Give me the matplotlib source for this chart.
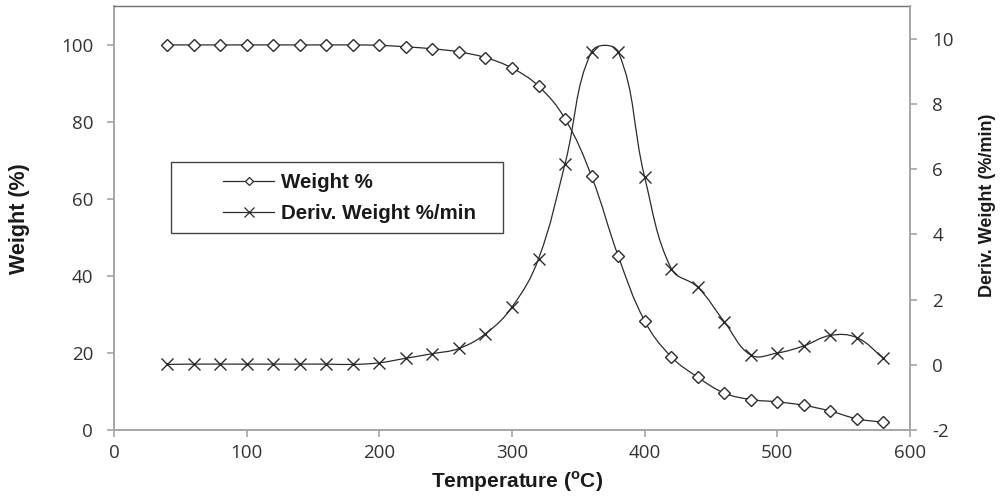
import matplotlib
matplotlib.use('Agg')
import numpy as np
import matplotlib.pyplot as plt
from matplotlib.path import Path
from matplotlib.patches import PathPatch, Rectangle
from matplotlib.lines import Line2D

# ---------------- data ----------------
temperature = [40, 60, 80, 100, 120, 140, 160, 180, 200, 220, 240, 260, 280, 300,
               320, 340, 360, 380, 400, 420, 440, 460, 480, 500, 520, 540, 560, 580]
weight_pct = [99.9, 99.9, 99.9, 99.9, 99.9, 99.9, 99.9, 99.9, 99.8, 99.4, 98.9, 98.1, 96.6, 93.9,
              89.2, 80.7, 65.8, 45.2, 28.3, 19.0, 13.7, 9.6, 7.9, 7.3, 6.4, 4.9, 2.9, 2.0]
deriv_weight = [0.01, 0.02, 0.02, 0.02, 0.02, 0.02, 0.02, 0.01, 0.06, 0.2, 0.34, 0.5, 0.95, 1.77,
                3.25, 6.17, 9.6, 9.6, 5.75, 2.95, 2.38, 1.32, 0.30, 0.36, 0.58, 0.9, 0.83, 0.2]
x_ticks = [0, 100, 200, 300, 400, 500, 600]
y_left_ticks = [0, 20, 40, 60, 80, 100]
y_right_ticks = [-2, 0, 2, 4, 6, 8, 10]
legend_labels = ['Weight %', 'Deriv. Weight %/min']

plt.rcParams['mathtext.fontset'] = 'custom'
plt.rcParams['mathtext.rm'] = 'Liberation Sans'
plt.rcParams['mathtext.bf'] = 'Liberation Sans:bold'
plt.rcParams['axes.unicode_minus'] = False

W, H = 1001, 499
fig = plt.figure(figsize=(W / 100, H / 100), dpi=100)


def fx(px):
    return px / W


def fy(py):
    return 1 - py / H


def smooth_path(a, x, y, t=0.4):
    """Excel-like smoothed line: cubic Bezier segments through the data points,
    control points computed in screen space with segment-length weighting."""
    pts = a.transData.transform(np.column_stack([x, y]))
    n = len(pts)
    seg = np.hypot(*np.diff(pts, axis=0).T)
    cin = np.zeros_like(pts)
    cout = np.zeros_like(pts)
    for i in range(n):
        p_prev = pts[max(i - 1, 0)]
        p_next = pts[min(i + 1, n - 1)]
        d_prev = seg[i - 1] if i > 0 else 0.0
        d_next = seg[i] if i < n - 1 else 0.0
        tot = d_prev + d_next
        tang = p_next - p_prev
        if tot == 0:
            cin[i] = cout[i] = pts[i]
            continue
        cout[i] = pts[i] + tang * t * d_next / tot
        cin[i] = pts[i] - tang * t * d_prev / tot
    inv = a.transData.inverted()
    verts = [pts[0]]
    codes = [Path.MOVETO]
    for i in range(n - 1):
        verts += [cout[i], cin[i + 1], pts[i + 1]]
        codes += [Path.CURVE4] * 3
    return Path(inv.transform(np.array(verts)), codes)


line_col = '#2b2b2b'
spine_col = '#a6a6a6'
tick_text_col = '#333333'

ax = fig.add_axes([fx(114), fy(430), (910 - 114) / W, (430 - 6) / H])
ax2 = ax.twinx()

ax.set_xlim(0, 600)
ax.set_ylim(0, 110)
ax2.set_ylim(-2, 11)
ax.set_xticks(x_ticks)
ax.set_yticks(y_left_ticks)
ax2.set_yticks(y_right_ticks)

# lines
ax.add_patch(PathPatch(smooth_path(ax, temperature, weight_pct), facecolor='none',
                       edgecolor=line_col, lw=0.9, zorder=2))
ax.plot(temperature, weight_pct, linestyle='none', marker='D', markersize=6.2,
        markerfacecolor='white', markeredgecolor=line_col, markeredgewidth=1.0, zorder=3)
ax2.add_patch(PathPatch(smooth_path(ax2, temperature, deriv_weight), facecolor='none',
                        edgecolor=line_col, lw=0.9, zorder=2))
ax2.plot(temperature, deriv_weight, linestyle='none', marker='x', markersize=9,
         markeredgecolor=line_col, markeredgewidth=1.0, zorder=3)

# spines
for a in (ax, ax2):
    for s in a.spines.values():
        s.set_visible(False)
ax.spines['left'].set_visible(True)
ax.spines['bottom'].set_visible(True)
ax.spines['top'].set_visible(True)
ax2.spines['right'].set_visible(True)
for s in (ax.spines['left'], ax.spines['bottom'], ax2.spines['right']):
    s.set_color(spine_col)
    s.set_linewidth(1.4)
ax.spines['top'].set_color('#707070')
ax.spines['top'].set_linewidth(1.0)

ax.tick_params(axis='both', direction='out', length=5, width=1.2, color=spine_col,
               labelcolor=tick_text_col, labelsize=13.5)
ax.tick_params(axis='y', pad=10)
ax.tick_params(axis='x', pad=5)
ax2.tick_params(axis='y', direction='out', length=5, width=1.2, color=spine_col,
                labelcolor=tick_text_col, labelsize=13.5, pad=11)
for lab in ax.get_xticklabels() + ax.get_yticklabels() + ax2.get_yticklabels():
    lab.set_fontfamily('Open Sans')

# axis labels
lab_kw = dict(fontweight='bold', family='Liberation Sans', color='#1a1a1a',
              ha='center', va='center')
fig.text(fx(517), fy(482), r'Temperature ($^{\mathbf{o}}$C)', fontsize=15, **lab_kw)
fig.text(fx(20), fy(219), 'Weight (%)', rotation=90, fontsize=15.5, **lab_kw)
fig.text(fx(987), fy(205), 'Deriv. Weight (%/min)', rotation=90, fontsize=13, **lab_kw)

# legend
handles = [
    Line2D([], [], color=line_col, lw=0.9, marker='D', markersize=4.5,
           markerfacecolor='white', markeredgecolor=line_col, markeredgewidth=0.9),
    Line2D([], [], color=line_col, lw=0.9, marker='x', markersize=6.5,
           markeredgecolor=line_col, markeredgewidth=0.9),
]
leg = fig.legend(handles, legend_labels, loc='center left',
                 bbox_to_anchor=(fx(223), fy(198)), bbox_transform=fig.transFigure,
                 frameon=False, borderpad=0, borderaxespad=0, handlelength=2.5,
                 handletextpad=0.3, labelspacing=0.6,
                 prop={'family': 'Liberation Sans', 'weight': 'bold', 'size': 14.8})
for t in leg.get_texts():
    t.set_color('#1a1a1a')
fig.patches.append(Rectangle((fx(171), fy(233)), (503 - 171) / W, (233 - 162) / H,
                             transform=fig.transFigure, fill=False,
                             edgecolor='#444444', lw=1.0))

fig.savefig('out.png', dpi=100)
